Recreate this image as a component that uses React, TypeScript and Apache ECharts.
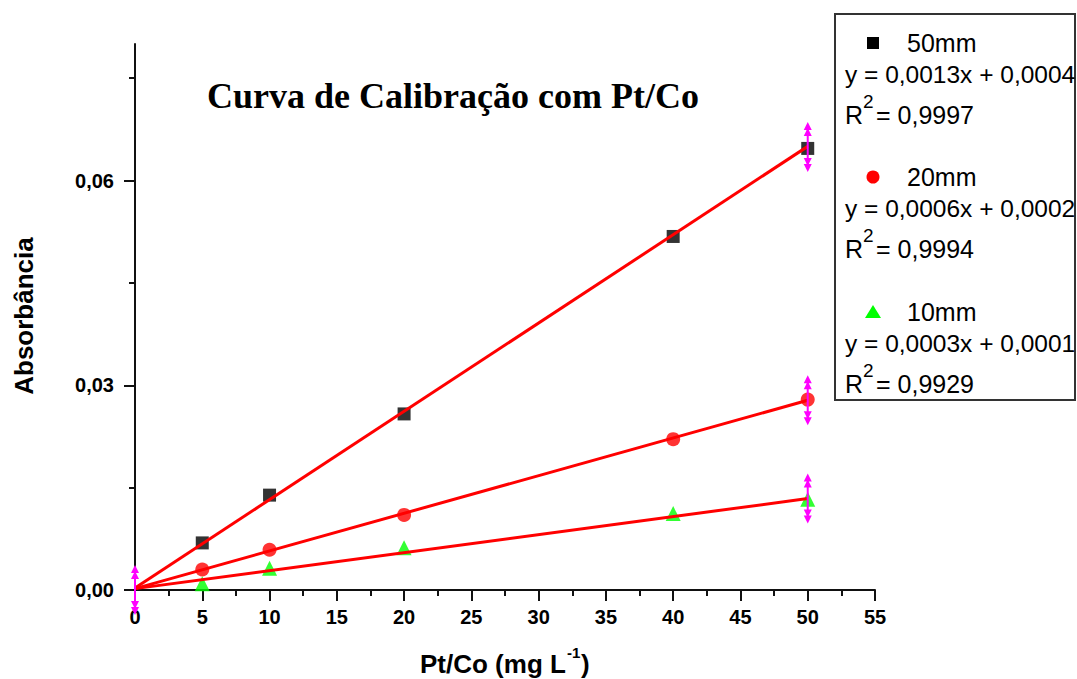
import React, { useEffect, useRef } from "react";
import * as echarts from "echarts";

// ---- data ----
const concentrations = [5, 10, 20, 40, 50];
const abs50mm = [0.0069, 0.0139, 0.0258, 0.0518, 0.0647];
const abs20mm = [0.003, 0.0059, 0.011, 0.0221, 0.0279];
const abs10mm = [0.0009, 0.0032, 0.0062, 0.0112, 0.0133];
const fitX = [0, 50];
const fit50mm = [0.0003, 0.065];
const fit20mm = [0.0002, 0.0278];
const fit10mm = [0.0002, 0.0134];
const rangeMarkX = [0, 50, 50, 50];
const rangeMarkY = [0, 0.0649, 0.0278, 0.0134];
const seriesNames = ["50mm", "20mm", "10mm"];
const equations = ["y = 0,0013x + 0,0004", "y = 0,0006x + 0,0002", "y = 0,0003x + 0,0001"];
const r2Values = ["0,9997", "0,9994", "0,9929"];
const yTickValues = [0, 0.03, 0.06];
const yMinorTickValues = [0.015, 0.045, 0.075];
const xTickValues = [0, 5, 10, 15, 20, 25, 30, 35, 40, 45, 50, 55];

const SANS = "'Liberation Sans', Arial, sans-serif";
const SERIF = "'Liberation Serif', 'Times New Roman', serif";

const pairs = (xs: number[], ys: number[]) => xs.map((x, i) => [x, ys[i]]);

export default function App() {
  const ref = useRef<HTMLDivElement>(null);

  useEffect(() => {
    if (!ref.current) return;
    const chart = echarts.init(ref.current, undefined, { renderer: "svg" });

    const legendRows = [43, 177, 312];
    const legendGraphics: any[] = [
      {
        type: "rect",
        shape: { x: 835, y: 14, width: 240, height: 386 },
        style: { fill: "#fff", stroke: "#333", lineWidth: 2 },
        z: 10,
      },
    ];
    legendRows.forEach((by, i) => {
      let marker: any;
      if (i === 0) {
        marker = { type: "rect", shape: { x: 867, y: by - 6, width: 12, height: 12 }, style: { fill: "#000" } };
      } else if (i === 1) {
        marker = { type: "circle", shape: { cx: 873, cy: by, r: 6.5 }, style: { fill: "#ff0000" } };
      } else {
        marker = {
          type: "polygon",
          shape: { points: [[873, by - 7], [865, by + 6], [881, by + 6]] },
          style: { fill: "#00ff00" },
        };
      }
      marker.z = 11;
      legendGraphics.push(marker);
      const txt = (x: number, y: number, text: string, size: number) => ({
        type: "text",
        x,
        y,
        z: 11,
        style: { text, fill: "#000", font: `${size}px ${SANS}`, textAlign: "left", textVerticalAlign: "middle" },
      });
      legendGraphics.push(txt(907, by, seriesNames[i], 25));
      legendGraphics.push(txt(845, by + 31, equations[i], 24.5));
      legendGraphics.push(txt(845, by + 72, "R", 25));
      legendGraphics.push(txt(863, by + 58, "2", 19));
      legendGraphics.push(txt(876, by + 72, "= " + r2Values[i], 25));
    });

    const option: any = {
      animation: false,
      backgroundColor: "#fff",
      grid: { left: 135, right: 202, top: 44, bottom: 89, containLabel: false },
      xAxis: {
        type: "value",
        min: 0,
        max: 55,
        interval: 5,
        axisLine: { show: true, onZero: false, lineStyle: { color: "#111", width: 2 } },
        axisTick: { show: true, length: 11, lineStyle: { color: "#111", width: 2 } },
        minorTick: { show: true, splitNumber: 2, length: 6, lineStyle: { color: "#111", width: 2 } },
        axisLabel: {
          customValues: xTickValues,
          fontSize: 20,
          fontWeight: "bold",
          color: "#000",
          fontFamily: SANS,
          margin: 17,
        },
        splitLine: { show: false },
        minorSplitLine: { show: false },
      },
      yAxis: [
        {
          type: "value",
          min: 0,
          max: 0.08,
          position: "left",
          axisLine: { show: true, onZero: false, lineStyle: { color: "#111", width: 2 } },
          axisTick: { show: true, customValues: yTickValues, length: 11, lineStyle: { color: "#111", width: 2 } },
          axisLabel: {
            customValues: yTickValues,
            formatter: (v: number) => v.toFixed(2).replace(".", ","),
            fontSize: 20,
            fontWeight: "bold",
            color: "#000",
            fontFamily: SANS,
            margin: 21,
          },
          splitLine: { show: false },
        },
        {
          type: "value",
          min: 0,
          max: 0.08,
          position: "left",
          axisLine: { show: false },
          axisTick: { show: true, customValues: yMinorTickValues, length: 6, lineStyle: { color: "#111", width: 2 } },
          axisLabel: { show: false },
          splitLine: { show: false },
        },
      ],
      series: [
        {
          name: seriesNames[0],
          type: "scatter",
          symbol: "rect",
          symbolSize: 13,
          itemStyle: { color: "#000" },
          data: pairs(concentrations, abs50mm),
          z: 2,
        },
        {
          name: seriesNames[1],
          type: "scatter",
          symbol: "circle",
          symbolSize: 14,
          itemStyle: { color: "#ff0000" },
          data: pairs(concentrations, abs20mm),
          z: 2,
        },
        {
          name: seriesNames[2],
          type: "scatter",
          symbol: "triangle",
          symbolSize: 15,
          itemStyle: { color: "#00ff00" },
          data: pairs(concentrations, abs10mm),
          z: 2,
        },
        ...[fit50mm, fit20mm, fit10mm].map((f) => ({
          type: "line",
          data: pairs(fitX, f),
          showSymbol: false,
          symbol: "none",
          lineStyle: { color: "#ff0000", width: 3 },
          z: 3,
        })),
        {
          type: "custom",
          clip: false,
          z: 4,
          data: pairs(rangeMarkX, rangeMarkY),
          renderItem: (_params: any, api: any) => {
            const p = api.coord([api.value(0), api.value(1)]);
            const x = p[0];
            const y = p[1];
            const c = "#ff00ff";
            const h = 25;
            return {
              type: "group",
              children: [
                { type: "line", shape: { x1: x, y1: y - h + 3, x2: x, y2: y + h - 3 }, style: { stroke: c, lineWidth: 2 } },
                { type: "polygon", shape: { points: [[x, y - h], [x - 4, y - h + 8], [x + 4, y - h + 8]] }, style: { fill: c } },
                { type: "polygon", shape: { points: [[x, y - h + 6], [x - 4, y - h + 14], [x + 4, y - h + 14]] }, style: { fill: c } },
                { type: "polygon", shape: { points: [[x, y + h], [x - 4, y + h - 8], [x + 4, y + h - 8]] }, style: { fill: c } },
                { type: "polygon", shape: { points: [[x, y + h - 6], [x - 4, y + h - 14], [x + 4, y + h - 14]] }, style: { fill: c } },
              ],
            };
          },
        },
      ],
      graphic: [
        {
          type: "text",
          x: 453,
          y: 96,
          style: {
            text: "Curva de Calibração com Pt/Co",
            fill: "#000",
            font: `bold 36px ${SERIF}`,
            textAlign: "center",
            textVerticalAlign: "middle",
          },
        },
        {
          type: "text",
          x: 24,
          y: 316,
          rotation: Math.PI / 2,
          style: {
            text: "Absorbância",
            fill: "#000",
            font: `bold 26px ${SANS}`,
            textAlign: "center",
            textVerticalAlign: "middle",
          },
        },
        {
          type: "text",
          x: 420,
          y: 664,
          style: { text: "Pt/Co (mg L", fill: "#000", font: `bold 26px ${SANS}`, textAlign: "left", textVerticalAlign: "middle" },
        },
        {
          type: "text",
          x: 567,
          y: 652,
          style: { text: "-1", fill: "#000", font: `bold 15px ${SANS}`, textAlign: "left", textVerticalAlign: "middle" },
        },
        {
          type: "text",
          x: 581,
          y: 664,
          style: { text: ")", fill: "#000", font: `bold 26px ${SANS}`, textAlign: "left", textVerticalAlign: "middle" },
        },
        ...legendGraphics,
      ],
    };

    chart.setOption(option);
    return () => chart.dispose();
  }, []);

  return (
    <div
      ref={ref}
      style={{ position: "absolute", left: 0, top: 0, width: 1077, height: 679, background: "#fff" }}
    />
  );
}
